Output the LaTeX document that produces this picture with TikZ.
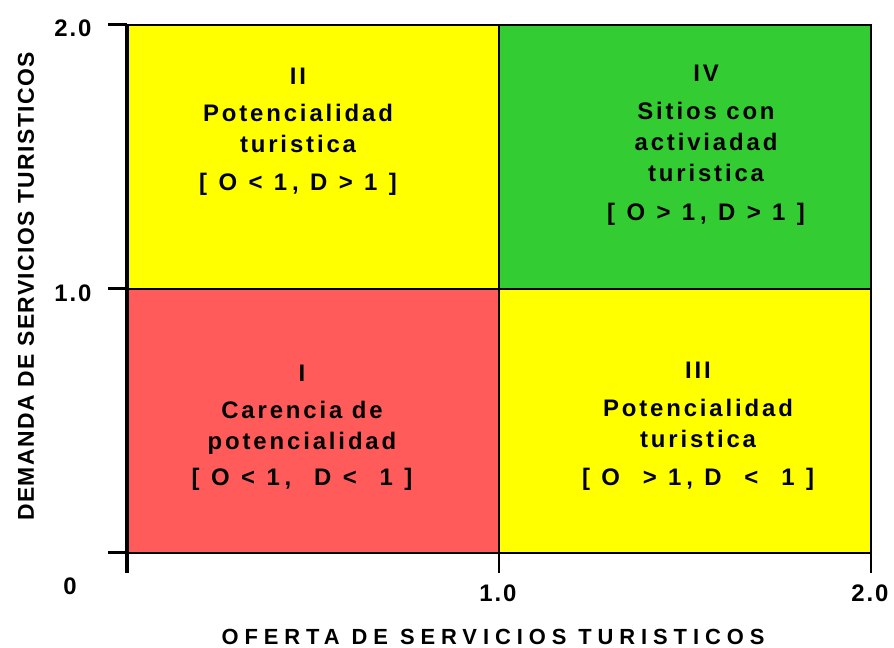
\documentclass[tikz,border=0pt]{standalone}
\usepackage{fontspec}
\setmainfont{Liberation Sans}
\definecolor{quadyellow}{HTML}{FFFF00}
\definecolor{quadgreen}{HTML}{33CC33}
\definecolor{quadred}{HTML}{FF5B5B}
\newcommand{\quadfont}{\fontsize{24}{31}\selectfont\bfseries\addfontfeature{LetterSpace=12}}
\newcommand{\tickfont}{\fontsize{24}{28}\selectfont\bfseries\addfontfeature{LetterSpace=8}}
\newcommand{\widesp}{\addfontfeature{LetterSpace=20}}
\tikzset{
	quadtext/.style={inner sep=0, align=center, anchor=north, font=\quadfont},
	ticklabel/.style={inner sep=0, font=\tickfont}
}

\begin{document}
\begin{tikzpicture}[x=1bp, y=1bp]
			%%%%% START %%%%%
			\useasboundingbox (0, 0) rectangle (894, 648);
			
			% quadrants
			\fill[quadred] (127, 95) rectangle (499, 359);
			\fill[quadyellow] (499, 95) rectangle (871, 359);
			\fill[quadyellow] (127, 359) rectangle (499, 623);
			\fill[quadgreen] (499, 359) rectangle (871, 623);
			
			\draw[line width=2bp] (127, 95) rectangle (871, 623);
			\draw[line width=2bp] (499, 95) -- (499, 623);
			\draw[line width=2bp] (127, 359) -- (871, 359);
			
			% axes and ticks
			\draw[line width=3.5bp] (127, 623) -- (127, 75);
			\draw[line width=3bp] (108, 623) -- (127, 623);
			\draw[line width=3bp] (108, 359) -- (127, 359);
			\draw[line width=3bp] (108, 95) -- (127, 95);
			\draw[line width=2.5bp] (499, 95) -- (499, 75);
			\draw[line width=2.5bp] (871, 95) -- (871, 75);
			
			\node[ticklabel] (y2) at (73, 620) {2.0};
			\node[ticklabel] (y1) at (73, 354.5) {1.0};
			\node[ticklabel] (y0) at (70, 62) {0};
			\node[ticklabel] (x1) at (498, 54.5) {1.0};
			\node[ticklabel] (x2) at (870, 54.5) {2.0};
			
			\node[inner sep=0, font=\fontsize{22}{26}\selectfont\bfseries\addfontfeature{LetterSpace=27}] (xlabel) at (493, 11) {OFERTA DE SERVICIOS TURISTICOS};
			\node[inner sep=0, rotate=90, font=\fontsize{23}{27}\selectfont\bfseries\addfontfeature{LetterSpace=6}] (ylabel) at (26, 361.5) {DEMANDA DE SERVICIOS TURISTICOS};
			
			% quadrant texts
			\node[quadtext] (qI) at (302, 283) {I\\[6bp]Carencia de\\potencialidad\\[5bp]\widesp[ O < 1,~ D <~ 1 ]};
			\node[quadtext] (qII) at (298, 580) {II\\[6bp]Potencialidad\\turistica\\[7bp]\widesp[ O < 1, D > 1 ]};
			\node[quadtext] (qIII) at (698, 286) {III\\[7bp]Potencialidad\\turistica\\[7bp]\widesp[ O~ > 1, D~ <~ 1 ]};
			\node[quadtext] (qIV) at (706, 583) {IV\\[7bp]Sitios con\\activiadad\\turistica\\[8bp]\widesp[ O > 1, D > 1 ]};
			
			%%%%% END %%%%%
\end{tikzpicture}
\end{document}
